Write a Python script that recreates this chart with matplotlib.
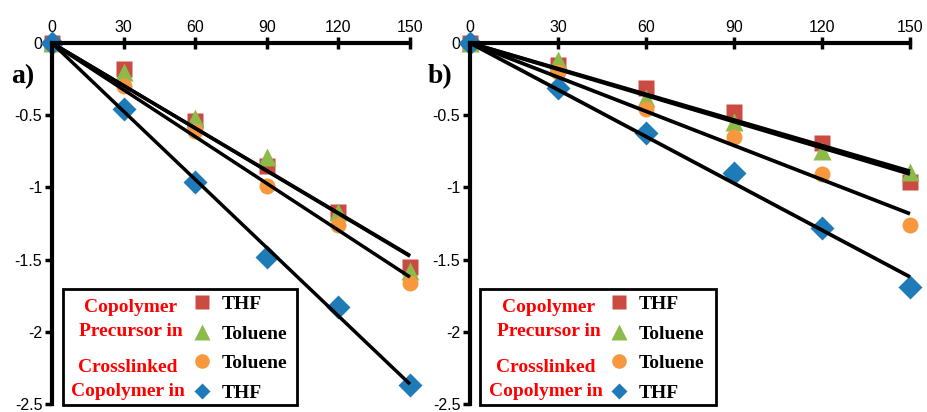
import numpy as np
import matplotlib.pyplot as plt
from matplotlib.patches import Rectangle
from matplotlib.lines import Line2D

# time axis (shared)
t = np.array([0, 30, 60, 90, 120, 150])

# panel a)
a_prec_thf = [0, -0.18, -0.54, -0.85, -1.17, -1.55]
a_prec_tol = [0, -0.20, -0.52, -0.79, -1.17, -1.58]
a_xl_tol = [0, -0.30, -0.61, -0.99, -1.26, -1.66]
a_xl_thf = [0, -0.46, -0.96, -1.48, -1.83, -2.37]

# panel b)
b_prec_thf = [0, -0.15, -0.31, -0.48, -0.69, -0.96]
b_prec_tol = [0, -0.12, -0.38, -0.55, -0.75, -0.89]
b_xl_tol = [0, -0.20, -0.46, -0.65, -0.91, -1.26]
b_xl_thf = [0, -0.31, -0.62, -0.90, -1.28, -1.69]

x_ticks = [0, 30, 60, 90, 120, 150]
y_ticks = [0, -0.5, -1, -1.5, -2, -2.5]
y_ticklabels = ["0", "-0.5", "-1", "-1.5", "-2", "-2.5"]

styles = [("s", "#CB4A42", "THF"),
          ("^", "#8DBB4A", "Toluene"),
          ("o", "#F7983E", "Toluene"),
          ("D", "#1F7BB8", "THF")]
msizes = [11.5, 12.5, 11.5, 12]
leg_msizes = [10, 11, 10.5, 8.5]

serif_bold = dict(family="Liberation Serif", weight="bold")

W, H = 928, 412


def draw_panel(ax, series, letter, px0, pw, lw, leg):
    for y, (m, c, _), ms in zip(series, styles, msizes):
        ax.plot(t, y, ls="none", marker=m, color=c, ms=ms, mec="none",
                clip_on=False, zorder=2)
        # linear trend line through the origin
        k = np.sum(t * np.array(y)) / np.sum(t * t)
        ax.plot([0, 150], [0, 150 * k], color="black", lw=lw,
                solid_capstyle="butt", clip_on=False, zorder=3)

    ax.set_xlim(0, 150)
    ax.set_ylim(-2.5, 0)
    ax.set_xticks(x_ticks)
    ax.set_yticks(y_ticks)
    ax.set_yticklabels(y_ticklabels)
    ax.xaxis.tick_top()
    for s in ["right", "bottom"]:
        ax.spines[s].set_visible(False)
    for s in ["top", "left"]:
        ax.spines[s].set_linewidth(3)
    ax.tick_params(axis="x", direction="inout", length=8, width=2.5, pad=2,
                   labelsize=11.5)
    ax.tick_params(axis="y", direction="out", length=5, width=2.5, pad=2,
                   labelsize=11.5)
    for lab in ax.get_xticklabels() + ax.get_yticklabels():
        lab.set_family("Liberation Sans")

    # panel letter
    ax.text(leg["lx"] / pw, (405 - 77) / 362, letter, transform=ax.transAxes,
            ha="center", va="center", fontsize=20, **serif_bold)

    # legend box
    bx0, bx1, by0, by1 = leg["box"]
    ax.add_patch(Rectangle(((bx0 - px0) / pw, (405 - by1) / 362),
                           (bx1 - bx0) / pw, (by1 - by0) / 362,
                           transform=ax.transAxes, fill=False, lw=2,
                           ec="black", clip_on=False, zorder=5))
    handles = [Line2D([], [], ls="none", marker=m, color=c, ms=ms,
                      mec="none") for (m, c, _), ms in zip(styles, leg_msizes)]
    labels = [s[2] for s in styles]
    ax.legend(handles, labels, loc="upper left", frameon=False,
              bbox_to_anchor=((leg["mx"] - 9.5 - px0) / pw, (405 - 296) / 362),
              borderpad=0, borderaxespad=0, handlelength=1,
              handletextpad=0.5, labelspacing=0.62,
              prop=dict(size=14, **serif_bold))
    ax.text((leg["tx"] - px0) / pw, (405 - 320.5) / 362,
            "Copolymer\nPrecursor in", transform=ax.transAxes, color="red",
            ha="center", va="center", fontsize=14, linespacing=1.5,
            **serif_bold)
    ax.text((leg["tx"] - 3 - px0) / pw, (405 - 380.5) / 362,
            "Crosslinked\nCopolymer in", transform=ax.transAxes, color="red",
            ha="center", va="center", fontsize=14, linespacing=1.5,
            **serif_bold)


fig = plt.figure(figsize=(W / 100, H / 100), dpi=100)
axA = fig.add_axes([52 / W, 1 - 404 / H, 358 / W, 361 / H])
axB = fig.add_axes([470 / W, 1 - 404 / H, 440 / W, 361 / H])

draw_panel(axA, [a_prec_thf, a_prec_tol, a_xl_tol, a_xl_thf], "a)", 52, 358, 2.5,
           dict(box=(63, 297, 290, 406), mx=202, tx=131, lx=-29))
draw_panel(axB, [b_prec_thf, b_prec_tol, b_xl_tol, b_xl_thf], "b)", 470, 440, 2.7,
           dict(box=(480, 716, 290, 406), mx=619, tx=549, lx=-30))

fig.savefig("out.png", dpi=100)
